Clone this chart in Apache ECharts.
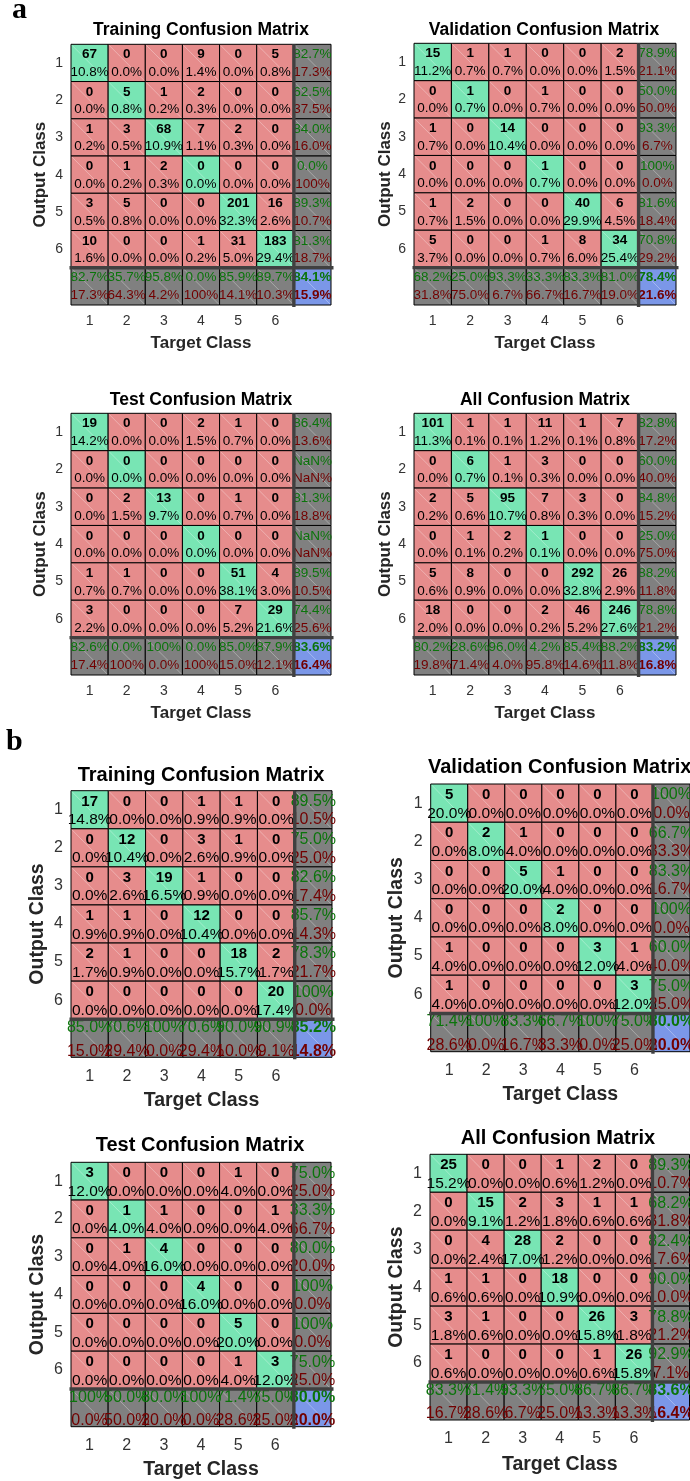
<!DOCTYPE html>
<html><head><meta charset="utf-8">
<script src="https://cdn.jsdelivr.net/npm/echarts@6/dist/echarts.min.js"></script>
<style>html,body{margin:0;padding:0;background:#fff}#c{width:690px;height:1481px}</style>
</head><body><div id="c"></div>
<script>
// ---------- tick labels ----------
const classLabels = ['1','2','3','4','5','6'];

// ---------- (a) Training ----------
const aTrainCounts = [[67,0,0,9,0,5],[0,5,1,2,0,0],[1,3,68,7,2,0],[0,1,2,0,0,0],[3,5,0,0,201,16],[10,0,0,1,31,183]];
const aTrainPct = [[10.8,0.0,0.0,1.4,0.0,0.8],[0.0,0.8,0.2,0.3,0.0,0.0],[0.2,0.5,10.9,1.1,0.3,0.0],[0.0,0.2,0.3,0.0,0.0,0.0],[0.5,0.8,0.0,0.0,32.3,2.6],[1.6,0.0,0.0,0.2,5.0,29.4]];
const aTrainRowOk = [82.7,62.5,84.0,0.0,89.3,81.3];
const aTrainRowErr = [17.3,37.5,16.0,100,10.7,18.7];
const aTrainColOk = [82.7,35.7,95.8,0.0,85.9,89.7];
const aTrainColErr = [17.3,64.3,4.2,100,14.1,10.3];
const aTrainAll = [84.1,15.9];

// ---------- (a) Validation ----------
const aValCounts = [[15,1,1,0,0,2],[0,1,0,1,0,0],[1,0,14,0,0,0],[0,0,0,1,0,0],[1,2,0,0,40,6],[5,0,0,1,8,34]];
const aValPct = [[11.2,0.7,0.7,0.0,0.0,1.5],[0.0,0.7,0.0,0.7,0.0,0.0],[0.7,0.0,10.4,0.0,0.0,0.0],[0.0,0.0,0.0,0.7,0.0,0.0],[0.7,1.5,0.0,0.0,29.9,4.5],[3.7,0.0,0.0,0.7,6.0,25.4]];
const aValRowOk = [78.9,50.0,93.3,100,81.6,70.8];
const aValRowErr = [21.1,50.0,6.7,0.0,18.4,29.2];
const aValColOk = [68.2,25.0,93.3,33.3,83.3,81.0];
const aValColErr = [31.8,75.0,6.7,66.7,16.7,19.0];
const aValAll = [78.4,21.6];

// ---------- (a) Test ----------
const aTestCounts = [[19,0,0,2,1,0],[0,0,0,0,0,0],[0,2,13,0,1,0],[0,0,0,0,0,0],[1,1,0,0,51,4],[3,0,0,0,7,29]];
const aTestPct = [[14.2,0.0,0.0,1.5,0.7,0.0],[0.0,0.0,0.0,0.0,0.0,0.0],[0.0,1.5,9.7,0.0,0.7,0.0],[0.0,0.0,0.0,0.0,0.0,0.0],[0.7,0.7,0.0,0.0,38.1,3.0],[2.2,0.0,0.0,0.0,5.2,21.6]];
const aTestRowOk = [86.4,NaN,81.3,NaN,89.5,74.4];
const aTestRowErr = [13.6,NaN,18.8,NaN,10.5,25.6];
const aTestColOk = [82.6,0.0,100,0.0,85.0,87.9];
const aTestColErr = [17.4,100,0.0,100,15.0,12.1];
const aTestAll = [83.6,16.4];

// ---------- (a) All ----------
const aAllCounts = [[101,1,1,11,1,7],[0,6,1,3,0,0],[2,5,95,7,3,0],[0,1,2,1,0,0],[5,8,0,0,292,26],[18,0,0,2,46,246]];
const aAllPct = [[11.3,0.1,0.1,1.2,0.1,0.8],[0.0,0.7,0.1,0.3,0.0,0.0],[0.2,0.6,10.7,0.8,0.3,0.0],[0.0,0.1,0.2,0.1,0.0,0.0],[0.6,0.9,0.0,0.0,32.8,2.9],[2.0,0.0,0.0,0.2,5.2,27.6]];
const aAllRowOk = [82.8,60.0,84.8,25.0,88.2,78.8];
const aAllRowErr = [17.2,40.0,15.2,75.0,11.8,21.2];
const aAllColOk = [80.2,28.6,96.0,4.2,85.4,88.2];
const aAllColErr = [19.8,71.4,4.0,95.8,14.6,11.8];
const aAllAll = [83.2,16.8];

// ---------- (b) Training ----------
const bTrainCounts = [[17,0,0,1,1,0],[0,12,0,3,1,0],[0,3,19,1,0,0],[1,1,0,12,0,0],[2,1,0,0,18,2],[0,0,0,0,0,20]];
const bTrainPct = [[14.8,0.0,0.0,0.9,0.9,0.0],[0.0,10.4,0.0,2.6,0.9,0.0],[0.0,2.6,16.5,0.9,0.0,0.0],[0.9,0.9,0.0,10.4,0.0,0.0],[1.7,0.9,0.0,0.0,15.7,1.7],[0.0,0.0,0.0,0.0,0.0,17.4]];
const bTrainRowOk = [89.5,75.0,82.6,85.7,78.3,100];
const bTrainRowErr = [10.5,25.0,17.4,14.3,21.7,0.0];
const bTrainColOk = [85.0,70.6,100,70.6,90.0,90.9];
const bTrainColErr = [15.0,29.4,0.0,29.4,10.0,9.1];
const bTrainAll = [85.2,14.8];

// ---------- (b) Validation ----------
const bValCounts = [[5,0,0,0,0,0],[0,2,1,0,0,0],[0,0,5,1,0,0],[0,0,0,2,0,0],[1,0,0,0,3,1],[1,0,0,0,0,3]];
const bValPct = [[20.0,0.0,0.0,0.0,0.0,0.0],[0.0,8.0,4.0,0.0,0.0,0.0],[0.0,0.0,20.0,4.0,0.0,0.0],[0.0,0.0,0.0,8.0,0.0,0.0],[4.0,0.0,0.0,0.0,12.0,4.0],[4.0,0.0,0.0,0.0,0.0,12.0]];
const bValRowOk = [100,66.7,83.3,100,60.0,75.0];
const bValRowErr = [0.0,33.3,16.7,0.0,40.0,25.0];
const bValColOk = [71.4,100,83.3,66.7,100,75.0];
const bValColErr = [28.6,0.0,16.7,33.3,0.0,25.0];
const bValAll = [80.0,20.0];

// ---------- (b) Test ----------
const bTestCounts = [[3,0,0,0,1,0],[0,1,1,0,0,1],[0,1,4,0,0,0],[0,0,0,4,0,0],[0,0,0,0,5,0],[0,0,0,0,1,3]];
const bTestPct = [[12.0,0.0,0.0,0.0,4.0,0.0],[0.0,4.0,4.0,0.0,0.0,4.0],[0.0,4.0,16.0,0.0,0.0,0.0],[0.0,0.0,0.0,16.0,0.0,0.0],[0.0,0.0,0.0,0.0,20.0,0.0],[0.0,0.0,0.0,0.0,4.0,12.0]];
const bTestRowOk = [75.0,33.3,80.0,100,100,75.0];
const bTestRowErr = [25.0,66.7,20.0,0.0,0.0,25.0];
const bTestColOk = [100,50.0,80.0,100,71.4,75.0];
const bTestColErr = [0.0,50.0,20.0,0.0,28.6,25.0];
const bTestAll = [80.0,20.0];

// ---------- (b) All ----------
const bAllCounts = [[25,0,0,1,2,0],[0,15,2,3,1,1],[0,4,28,2,0,0],[1,1,0,18,0,0],[3,1,0,0,26,3],[1,0,0,0,1,26]];
const bAllPct = [[15.2,0.0,0.0,0.6,1.2,0.0],[0.0,9.1,1.2,1.8,0.6,0.6],[0.0,2.4,17.0,1.2,0.0,0.0],[0.6,0.6,0.0,10.9,0.0,0.0],[1.8,0.6,0.0,0.0,15.8,1.8],[0.6,0.0,0.0,0.0,0.6,15.8]];
const bAllRowOk = [89.3,68.2,82.4,90.0,78.8,92.9];
const bAllRowErr = [10.7,31.8,17.6,10.0,21.2,7.1];
const bAllColOk = [83.3,71.4,93.3,75.0,86.7,86.7];
const bAllColErr = [16.7,28.6,6.7,25.0,13.3,13.3];
const bAllAll = [83.6,16.4];

// ---------- styles / layout ----------
const FF = '"Liberation Sans", Arial, Helvetica, sans-serif';
const C_GREEN = '#78E5B4', C_RED = '#E68C8C', C_GRAY = '#808080', C_BLUE = '#7B97E8';
const T_GREEN = '#0b740b', T_RED = '#720000';
const styleA = {cnt:13.5, pct:13.5, sum:13.5, title:17.5, name:17, tick:14, tf:0.28, bf:0.75, tfB:0.26, bfB:0.74, xm:9, ym:8};
const styleB = {cnt:15, pct:15.5, sum:16, title:20, name:19.5, tick:16, tf:0.29, bf:0.77, tfB:0.22, bfB:0.84, xm:11, ym:8};

const panels = [
  {title:'Training Confusion Matrix', st:styleA, L:71, T:44.3, W:260, H:260.7, tx:201, ty:30, tAlign:'center', xGap:30, yGap:22,
   d:[aTrainCounts,aTrainPct,aTrainRowOk,aTrainRowErr,aTrainColOk,aTrainColErr,aTrainAll]},
  {title:'Validation Confusion Matrix', st:styleA, L:414, T:43.3, W:262, H:261.7, tx:544, ty:30, tAlign:'center', xGap:30, yGap:20,
   d:[aValCounts,aValPct,aValRowOk,aValRowErr,aValColOk,aValColErr,aValAll]},
  {title:'Test Confusion Matrix', st:styleA, L:71, T:413.3, W:260, H:261.7, tx:201, ty:400, tAlign:'center', xGap:30, yGap:22,
   d:[aTestCounts,aTestPct,aTestRowOk,aTestRowErr,aTestColOk,aTestColErr,aTestAll]},
  {title:'All Confusion Matrix', st:styleA, L:414, T:413.3, W:262, H:261.7, tx:545, ty:400, tAlign:'center', xGap:30, yGap:20,
   d:[aAllCounts,aAllPct,aAllRowOk,aAllRowErr,aAllColOk,aAllColErr,aAllAll]},
  {title:'Training Confusion Matrix', st:styleB, L:71, T:790.7, W:261, H:266.6, tx:201, ty:775, tAlign:'center', xGap:33, yGap:23,
   d:[bTrainCounts,bTrainPct,bTrainRowOk,bTrainRowErr,bTrainColOk,bTrainColErr,bTrainAll]},
  {title:'Validation Confusion Matrix', st:styleB, L:430.7, T:784, W:259.5, H:267.7, tx:428, ty:767.7, tAlign:'left', xGap:33, yGap:24,
   d:[bValCounts,bValPct,bValRowOk,bValRowErr,bValColOk,bValColErr,bValAll]},
  {title:'Test Confusion Matrix', st:styleB, L:71, T:1162.3, W:260, H:264.4, tx:200, ty:1145, tAlign:'center', xGap:33, yGap:23,
   d:[bTestCounts,bTestPct,bTestRowOk,bTestRowErr,bTestColOk,bTestColErr,bTestAll]},
  {title:'All Confusion Matrix', st:styleB, L:430, T:1154.3, W:259.5, H:265.7, tx:558, ty:1138.3, tAlign:'center', xGap:35, yGap:23,
   d:[bAllCounts,bAllPct,bAllRowOk,bAllRowErr,bAllColOk,bAllColErr,bAllAll]}
];

function fmt(v){
  if (v === null || Number.isNaN(v)) return 'NaN%';
  if (v === 100) return '100%';
  return v.toFixed(1) + '%';
}

const grids = [], xAxes = [], yAxes = [], series = [], graphics = [];

panels.forEach((p, gi) => {
  const st = p.st;
  const [counts, pct, rowOk, rowErr, colOk, colErr, all] = p.d;
  grids.push({left:p.L, top:p.T, width:p.W, height:p.H, containLabel:false});
  xAxes.push({
    gridIndex:gi, type:'category', data:[...classLabels, ''],
    axisLine:{show:false}, axisTick:{show:false}, splitLine:{show:false},
    axisLabel:{interval:0, fontSize:st.tick, color:'#333333', fontFamily:FF, margin:st.xm},
    name:'Target Class', nameLocation:'middle', nameGap:p.xGap,
    nameTextStyle:{fontSize:st.name, fontWeight:'bold', color:'#262626', fontFamily:FF}
  });
  yAxes.push({
    gridIndex:gi, type:'category', inverse:true, data:[...classLabels, ''],
    axisLine:{show:false}, axisTick:{show:false}, splitLine:{show:false},
    axisLabel:{interval:0, fontSize:st.tick, color:'#333333', fontFamily:FF, margin:st.ym},
    name:'Output Class', nameLocation:'middle', nameGap:p.yGap,
    nameTextStyle:{fontSize:st.name, fontWeight:'bold', color:'#262626', fontFamily:FF}
  });

  const cells = [];
  for (let r = 0; r < 6; r++) {
    for (let c = 0; c < 6; c++) {
      cells.push({x:c, y:r, fill: r === c ? C_GREEN : C_RED,
        t1:String(counts[r][c]), c1:'#000', f1:'bold ' + st.cnt + 'px ' + FF,
        t2:fmt(pct[r][c]), c2:'#000', f2:st.pct + 'px ' + FF, tf:st.tf, bf:st.bf});
    }
    cells.push({x:6, y:r, fill:C_GRAY,
      t1:fmt(rowOk[r]), c1:T_GREEN, f1:st.sum + 'px ' + FF,
      t2:fmt(rowErr[r]), c2:T_RED, f2:st.sum + 'px ' + FF, tf:st.tf, bf:st.bf});
  }
  for (let c = 0; c < 6; c++) {
    cells.push({x:c, y:6, fill:C_GRAY,
      t1:fmt(colOk[c]), c1:T_GREEN, f1:st.sum + 'px ' + FF,
      t2:fmt(colErr[c]), c2:T_RED, f2:st.sum + 'px ' + FF, tf:st.tfB, bf:st.bfB});
  }
  cells.push({x:6, y:6, fill:C_BLUE,
    t1:fmt(all[0]), c1:T_GREEN, f1:'bold ' + st.sum + 'px ' + FF,
    t2:fmt(all[1]), c2:T_RED, f2:'bold ' + st.sum + 'px ' + FF, tf:st.tfB, bf:st.bfB});

  series.push({
    type:'custom', xAxisIndex:gi, yAxisIndex:gi, clip:false, silent:true,
    encode:{x:0, y:1},
    data: cells.map(c => [c.x, c.y]),
    renderItem: (params, api) => {
      const c = cells[params.dataIndex];
      const ctr = api.coord([api.value(0), api.value(1)]);
      const sz = api.size([1, 1]);
      const x0 = ctr[0] - sz[0] / 2, y0 = ctr[1] - sz[1] / 2;
      return {type:'group', children:[
        {type:'rect', z2:0, shape:{x:x0, y:y0, width:sz[0], height:sz[1]},
         style:{fill:c.fill, stroke:'#000', lineWidth:1}},
        {type:'line', z2:1, shape:{x1:x0 + 1, y1:y0 + 1, x2:x0 + sz[0] - 1, y2:y0 + sz[1] - 1},
         style:{stroke:'rgba(255,255,255,0.45)', lineWidth:0.7}},
        {type:'text', z2:10, x:ctr[0], y:y0 + sz[1] * c.tf,
         style:{text:c.t1, fill:c.c1, font:c.f1, align:'center', verticalAlign:'middle', textAlign:'center', textVerticalAlign:'middle'}},
        {type:'text', z2:10, x:ctr[0], y:y0 + sz[1] * c.bf,
         style:{text:c.t2, fill:c.c2, font:c.f2, align:'center', verticalAlign:'middle', textAlign:'center', textVerticalAlign:'middle'}}
      ]};
    }
  });

  // thick separators of the summary row / column
  series.push({
    type:'custom', xAxisIndex:gi, yAxisIndex:gi, clip:false, silent:true, z:5,
    encode:{x:0, y:1},
    data:[[6, 6]],
    renderItem: (params, api) => {
      const cs = params.coordSys;
      const ctr = api.coord([api.value(0), api.value(1)]);
      const sz = api.size([1, 1]);
      const vx = ctr[0] - sz[0] / 2, hy = ctr[1] - sz[1] / 2;
      return {type:'group', children:[
        {type:'line', shape:{x1:vx, y1:cs.y, x2:vx, y2:cs.y + cs.height + 2}, style:{stroke:'#404040', lineWidth:3.4}},
        {type:'line', shape:{x1:cs.x - 1.5, y1:hy, x2:cs.x + cs.width + 2.5, y2:hy}, style:{stroke:'#404040', lineWidth:3.4}}
      ]};
    }
  });

  graphics.push({type:'text', x:p.tx, y:p.ty, silent:true,
    style:{text:p.title, font:'bold ' + st.title + 'px ' + FF, fill:'#000',
      align:p.tAlign, verticalAlign:'middle', textAlign:p.tAlign, textVerticalAlign:'middle'}});
});

graphics.push({type:'text', x:12, y:25, silent:true,
  style:{text:'a', font:'bold 30px "Liberation Serif", "Times New Roman", serif', fill:'#000',
    align:'left', verticalAlign:'bottom', textAlign:'left', textVerticalAlign:'bottom'}});
graphics.push({type:'text', x:6, y:757, silent:true,
  style:{text:'b', font:'bold 30px "Liberation Serif", "Times New Roman", serif', fill:'#000',
    align:'left', verticalAlign:'bottom', textAlign:'left', textVerticalAlign:'bottom'}});

const chart = echarts.init(document.getElementById('c'), null, {renderer:'canvas'});
chart.setOption({
  animation:false,
  backgroundColor:'#fff',
  grid:grids, xAxis:xAxes, yAxis:yAxes, series:series, graphic:graphics
});
</script>
</body></html>
